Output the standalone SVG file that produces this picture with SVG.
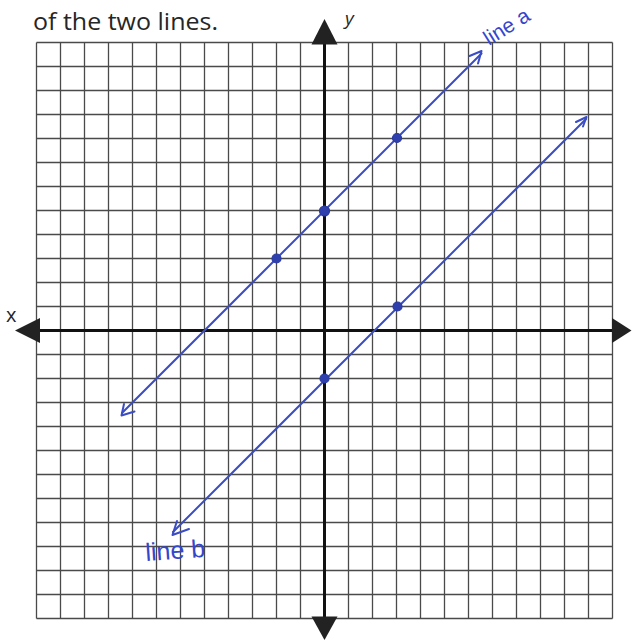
<svg xmlns="http://www.w3.org/2000/svg" width="632" height="642" viewBox="0 0 632 642">
<style>
.grid line{stroke:#4a4a4a;stroke-width:1.3}
.axis{stroke:#111;stroke-width:3}
.ahead{fill:#222}
.bl{stroke:#3a4dc4;stroke-width:2;fill:none;stroke-linecap:round;stroke-linejoin:round}
.pt{fill:#2f40ad;stroke:#2a3aa0;stroke-width:1.2}
.hand{font-family:"Liberation Sans","DejaVu Sans",sans-serif;fill:#3446cc}
.lbl{font-family:"Open Sans","Liberation Sans",sans-serif;fill:#262626}
</style>
<rect width="632" height="642" fill="#fff"/>
<text class="lbl" x="33" y="30" font-size="23" textLength="185" lengthAdjust="spacingAndGlyphs">of the two lines.</text>
<g id="grid" class="grid">
<line x1="36.5" y1="42.5" x2="36.5" y2="618.5"/><line x1="60.5" y1="42.5" x2="60.5" y2="618.5"/><line x1="84.5" y1="42.5" x2="84.5" y2="618.5"/><line x1="108.5" y1="42.5" x2="108.5" y2="618.5"/><line x1="132.5" y1="42.5" x2="132.5" y2="618.5"/><line x1="156.5" y1="42.5" x2="156.5" y2="618.5"/><line x1="180.5" y1="42.5" x2="180.5" y2="618.5"/><line x1="204.5" y1="42.5" x2="204.5" y2="618.5"/><line x1="228.5" y1="42.5" x2="228.5" y2="618.5"/><line x1="252.5" y1="42.5" x2="252.5" y2="618.5"/><line x1="276.5" y1="42.5" x2="276.5" y2="618.5"/><line x1="300.5" y1="42.5" x2="300.5" y2="618.5"/><line x1="348.5" y1="42.5" x2="348.5" y2="618.5"/><line x1="372.5" y1="42.5" x2="372.5" y2="618.5"/><line x1="396.5" y1="42.5" x2="396.5" y2="618.5"/><line x1="420.5" y1="42.5" x2="420.5" y2="618.5"/><line x1="444.5" y1="42.5" x2="444.5" y2="618.5"/><line x1="468.5" y1="42.5" x2="468.5" y2="618.5"/><line x1="492.5" y1="42.5" x2="492.5" y2="618.5"/><line x1="516.5" y1="42.5" x2="516.5" y2="618.5"/><line x1="540.5" y1="42.5" x2="540.5" y2="618.5"/><line x1="564.5" y1="42.5" x2="564.5" y2="618.5"/><line x1="588.5" y1="42.5" x2="588.5" y2="618.5"/><line x1="612.5" y1="42.5" x2="612.5" y2="618.5"/>
<line x1="36.5" y1="42.5" x2="612.5" y2="42.5"/><line x1="36.5" y1="66.5" x2="612.5" y2="66.5"/><line x1="36.5" y1="90.5" x2="612.5" y2="90.5"/><line x1="36.5" y1="114.5" x2="612.5" y2="114.5"/><line x1="36.5" y1="138.5" x2="612.5" y2="138.5"/><line x1="36.5" y1="162.5" x2="612.5" y2="162.5"/><line x1="36.5" y1="186.5" x2="612.5" y2="186.5"/><line x1="36.5" y1="210.5" x2="612.5" y2="210.5"/><line x1="36.5" y1="234.5" x2="612.5" y2="234.5"/><line x1="36.5" y1="258.5" x2="612.5" y2="258.5"/><line x1="36.5" y1="282.5" x2="612.5" y2="282.5"/><line x1="36.5" y1="306.5" x2="612.5" y2="306.5"/><line x1="36.5" y1="354.5" x2="612.5" y2="354.5"/><line x1="36.5" y1="378.5" x2="612.5" y2="378.5"/><line x1="36.5" y1="402.5" x2="612.5" y2="402.5"/><line x1="36.5" y1="426.5" x2="612.5" y2="426.5"/><line x1="36.5" y1="450.5" x2="612.5" y2="450.5"/><line x1="36.5" y1="474.5" x2="612.5" y2="474.5"/><line x1="36.5" y1="498.5" x2="612.5" y2="498.5"/><line x1="36.5" y1="522.5" x2="612.5" y2="522.5"/><line x1="36.5" y1="546.5" x2="612.5" y2="546.5"/><line x1="36.5" y1="570.5" x2="612.5" y2="570.5"/><line x1="36.5" y1="594.5" x2="612.5" y2="594.5"/><line x1="36.5" y1="618.5" x2="612.5" y2="618.5"/>
</g>
<g id="axes">
<line class="axis" x1="324.5" y1="40" x2="324.5" y2="620"/>
<line class="axis" x1="38" y1="330.5" x2="614" y2="330.5"/>
<polygon class="ahead" points="324.5,19 337.5,44.5 311.5,44.5"/>
<polygon class="ahead" points="324.5,640 337.5,616.5 311.5,616.5"/>
<polygon class="ahead" points="15,330.5 40,318 40,343"/>
<polygon class="ahead" points="631.5,330.5 612,318 612,343"/>
<text class="lbl" x="345" y="25" font-size="19" font-style="italic">y</text>
<text class="lbl" x="6" y="322" font-size="20">x</text>
</g>
<g id="connectors">
<g id="line-a">
<line class="bl" x1="122" y1="413" x2="481.5" y2="53.5"/>
<polyline class="bl" points="124,404 121.5,415.5 134.5,411.5"/>
<polyline class="bl" points="469.5,56 481.5,51 478,63.5"/>
</g>
<g id="line-b">
<line class="bl" x1="173" y1="532" x2="586" y2="119"/>
<polyline class="bl" points="177,521 172.5,535 189,529"/>
<polyline class="bl" points="576,122 586.5,117 583,126.5"/>
</g>
</g>
<g id="point-a1"><circle class="pt" cx="276.5" cy="258.5" r="4.5" fill="#6676d4"/></g>
<g id="point-a2"><circle class="pt" cx="324.5" cy="211" r="5"/></g>
<g id="point-a3"><circle class="pt" cx="397" cy="138" r="4.5"/></g>
<g id="point-b1"><circle class="pt" cx="324.5" cy="378.5" r="4.5"/></g>
<g id="point-b2"><circle class="pt" cx="397.5" cy="306.5" r="4.5"/></g>
<g id="label-a"><text class="hand" x="489" y="46" font-size="21" transform="rotate(-32 489 46)">line a</text></g>
<g id="label-b"><text class="hand" x="146" y="561" font-size="25" transform="rotate(-4 146 561)">line b</text></g>
</svg>
